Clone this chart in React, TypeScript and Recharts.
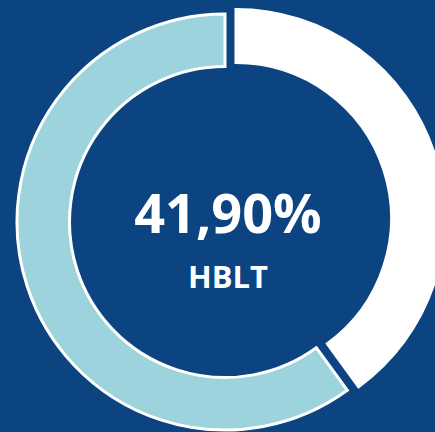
import React from 'react';
import { PieChart, Pie, Cell } from 'recharts';

const categories = ['HBLT', 'Other'];
const values = [40, 60];
const centerValueLabel = '41,90%';
const centerNameLabel = 'HBLT';

const BG = '#0c4481';
const WHITE = '#ffffff';
const LIGHT = '#9dd3dc';

const data = categories.map((name, i) => ({ name, value: values[i] }));

export default function App() {
  return (
    <div style={{ position: 'absolute', left: 0, top: 0, width: 435, height: 432, background: BG, overflow: 'hidden' }}>
      <PieChart width={435} height={432} margin={{ top: 0, right: 0, bottom: 0, left: 0 }}>
        <Pie
          data={data}
          dataKey="value"
          nameKey="name"
          cx={225}
          cy={222}
          innerRadius={155.5}
          outerRadius={208}
          startAngle={90}
          endAngle={-270}
          isAnimationActive={false}
        >
          <Cell fill="none" stroke="none" />
          <Cell fill={LIGHT} stroke={WHITE} strokeWidth={3} />
        </Pie>
        <Pie
          data={data}
          dataKey="value"
          nameKey="name"
          cx={236}
          cy={218}
          innerRadius={155.5}
          outerRadius={208.5}
          startAngle={90}
          endAngle={-270}
          isAnimationActive={false}
        >
          <Cell fill={WHITE} stroke={WHITE} strokeWidth={3} />
          <Cell fill="none" stroke="none" />
        </Pie>
        <text x={228} y={233} textAnchor="middle" fill={WHITE} fontFamily="'Open Sans', sans-serif" fontWeight={700} fontSize={54}>
          {centerValueLabel}
        </text>
        <text x={228} y={288} textAnchor="middle" fill={WHITE} fontFamily="'Open Sans', sans-serif" fontWeight={700} fontSize={31}>
          {centerNameLabel}
        </text>
      </PieChart>
    </div>
  );
}
